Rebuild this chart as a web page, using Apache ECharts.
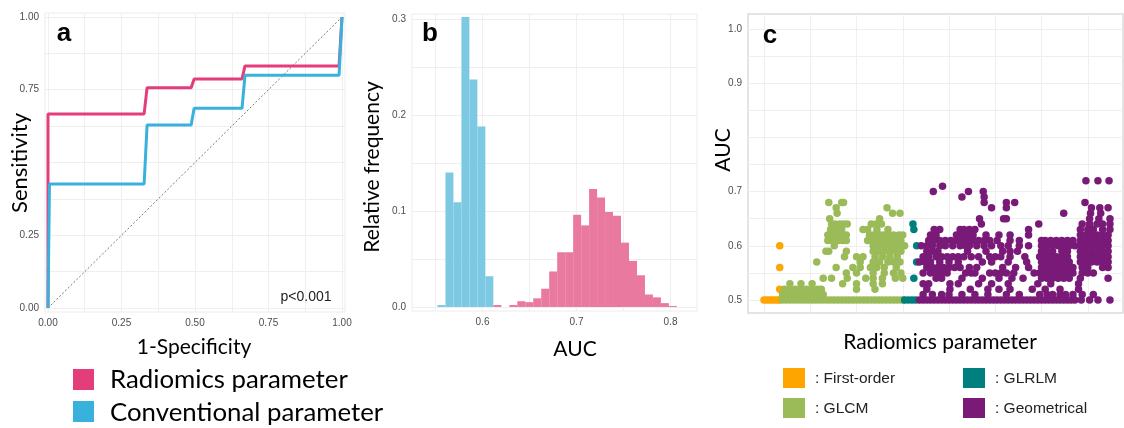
<!DOCTYPE html>
<html>
<head>
<meta charset="utf-8" />
<script type="text/javascript" src="https://cdn.jsdelivr.net/npm/echarts@6/dist/echarts.min.js"></script>
<title></title>
<style>
  body { margin: 0; background: #fff; }
  #main { width: 1124px; height: 428px; }
</style>
</head>
<body>
<div id="main"></div>
<script type="text/javascript">
// panel a: ROC curves, [1-specificity, sensitivity]
var radiomicsRoc = [[0, 0], [0, 0.667], [0.327, 0.667], [0.337, 0.757], [0.487, 0.757], [0.497, 0.787],
  [0.66, 0.787], [0.67, 0.832], [0.99, 0.832], [1, 1]];
var conventionalRoc = [[0, 0], [0.005, 0.426], [0.327, 0.426], [0.337, 0.629], [0.487, 0.629], [0.497, 0.686],
  [0.66, 0.686], [0.67, 0.80], [0.99, 0.80], [1, 1]];
var chanceLine = [[0, 0], [1, 1]];

// panel b: histogram of AUC (relative frequency per bin)
var binStart = 0.5521;
var binWidth = 0.00849;
var conventionalFreq = [0.002, 0.140, 0.109, 0.302, 0.237, 0.188, 0.032];
var radiomicsFreq = [0, 0, 0, 0, 0, 0, 0, 0.002, 0,
  0.002, 0.006, 0.005, 0.009, 0.019, 0.037, 0.057, 0.057, 0.096, 0.085, 0.123,
  0.114, 0.099, 0.095, 0.067, 0.048, 0.033, 0.013, 0.010, 0.004, 0.001];

// panel c: AUC per radiomics parameter, rows of [auc, [parameter index, ...]]
var firstOrderRows = [
  [0.5, [0, 3, 6, 9, 12, 15, 17]],
  [0.52, [17]], [0.56, [17]], [0.6, [17]]
];
var glcmRows = [
  [0.5, [20, 24, 28, 32, 36, 40, 44, 48, 52, 56, 60, 64, 68, 72, 76, 80, 84, 88, 92, 96, 100, 104, 108, 112, 116, 120, 124, 128, 132, 136, 140, 144, 148, 151]],
  [0.51, [20, 25, 30, 35, 40, 45, 50, 55, 60, 64]],
  [0.52, [22, 28, 34, 40, 46, 52, 58, 62, 100, 120]],
  [0.53, [28, 40, 52, 85, 100, 118, 128]],
  [0.54, [64, 73, 90, 110, 118, 128, 142, 150]],
  [0.55, [89, 100, 118, 130, 140, 148]],
  [0.56, [78, 96, 104, 115, 122, 130, 143]],
  [0.57, [57, 104, 118, 125, 134, 140, 147]],
  [0.58, [87, 100, 107, 120, 128, 136, 144]],
  [0.59, [67, 70, 89, 118, 124, 130, 136, 142, 148]],
  [0.6, [76, 118, 124, 130, 136, 142, 148, 152]],
  [0.61, [69, 73, 77, 81, 85, 89, 112, 116, 120, 124, 128, 132, 136, 140, 144, 148]],
  [0.62, [69, 73, 77, 81, 85, 89, 114, 118, 122, 126, 130, 134, 140, 146, 150]],
  [0.63, [72, 78, 84, 107, 112, 122, 134]],
  [0.64, [73, 77, 82, 86, 90, 116, 121, 127]],
  [0.65, [71, 125]],
  [0.66, [79, 139, 147]],
  [0.67, [78, 133]],
  [0.68, [70, 84, 86]]
];
var glrlmRows = [
  [0.5, [152, 156, 160, 164]],
  [0.54, [162]], [0.57, [165]], [0.6, [165]], [0.63, [162]], [0.64, [161]]
];
var geometricalRows = [
  [0.5, [168, 172, 176, 180, 184, 188, 192, 196, 200, 204, 208, 212, 216, 220, 224, 228, 232, 236, 240, 244,
    248, 252, 256, 260, 264, 268, 272, 276, 280, 284, 288, 292, 296, 300, 304, 308, 312, 316, 320, 324,
    328, 332, 336, 343, 352, 361, 374]],
  [0.51, [172, 182, 192, 200, 214, 228, 242, 262, 276, 298, 306, 312, 320, 326, 334, 344, 356]],
  [0.52, [176, 201, 223, 242, 254, 266, 290, 304, 320, 340]],
  [0.53, [172, 178, 201, 210, 232, 246, 264, 296, 310, 340]],
  [0.54, [186, 192, 214, 236, 254, 268, 280, 300, 306, 312, 318, 324, 330, 342, 372]],
  [0.55, [172, 180, 186, 192, 198, 218, 224, 228, 244, 250, 256, 262, 270, 292, 298, 304, 310, 316, 322, 328, 334, 344, 350, 356]],
  [0.56, [176, 182, 188, 194, 200, 206, 212, 222, 230, 258, 272, 286, 300, 304, 310, 316, 322, 328, 334, 344, 350, 366, 372]],
  [0.57, [168, 174, 180, 190, 200, 210, 236, 246, 264, 284, 300, 306, 312, 318, 324, 330, 342, 348, 354, 360, 366, 372]],
  [0.58, [172, 178, 186, 192, 198, 204, 210, 216, 224, 232, 244, 250, 256, 266, 282, 298, 304, 310, 316, 322, 328, 342, 348, 354, 360, 366, 372]],
  [0.59, [176, 182, 188, 220, 240, 258, 266, 274, 300, 306, 312, 322, 328, 342, 348, 354, 360, 366, 372]],
  [0.6, [170, 176, 182, 190, 196, 204, 212, 218, 222, 230, 238, 246, 256, 264, 276, 286, 300, 306, 312, 318, 324, 330, 336, 342, 348, 354, 360, 366, 372]],
  [0.61, [178, 184, 190, 196, 202, 208, 214, 220, 226, 232, 238, 244, 252, 266, 276, 300, 304, 310, 316, 322, 328, 334, 342, 348, 354, 360, 366, 372]],
  [0.62, [180, 186, 208, 214, 220, 226, 240, 254, 266, 286, 342, 348, 354, 360, 366, 372]],
  [0.63, [184, 190, 212, 216, 222, 228, 286, 342, 350, 356, 366, 374]],
  [0.64, [235, 297, 344, 352, 360, 366, 374]],
  [0.65, [233, 259, 262, 352, 362, 374]],
  [0.66, [324, 353, 364]],
  [0.67, [246, 262, 354, 363, 372]],
  [0.68, [238, 262, 271, 347]],
  [0.69, [214, 238]],
  [0.7, [183, 221, 237]],
  [0.71, [193]],
  [0.72, [348, 361, 373]]
];

var pink = '#e43d7b', blue = '#38b2dc';
var histPink = '#e9799f', histBlue = '#7dc9e3';
var orange = '#ffa500', green = '#9bbb59', teal = '#007f7f', purple = '#7a1a78';
var tickFont = 'Liberation Sans';
var titleFont = 'Lato';

function rowsToPoints(rows) {
  var pts = [];
  rows.forEach(function (r) {
    r[1].forEach(function (x) { pts.push([x, r[0]]); });
  });
  return pts;
}
function binsToData(freq) {
  var out = [];
  for (var i = 0; i < freq.length; i++) {
    if (freq[i] > 0) out.push([binStart + i * binWidth, binStart + (i + 1) * binWidth, freq[i]]);
  }
  return out;
}
function histItem(params, api) {
  var p0 = api.coord([api.value(0), api.value(2)]);
  var p1 = api.coord([api.value(1), 0]);
  return {
    type: 'rect',
    shape: { x: p0[0], y: p0[1], width: p1[0] - p0[0], height: p1[1] - p0[1] },
    style: { fill: api.visual('color') }
  };
}
function axis(gridIndex, min, max, lines, labels, digits) {
  return {
    type: 'value', gridIndex: gridIndex, min: min, max: max,
    axisLine: { show: false },
    axisTick: { show: false, customValues: lines },
    splitLine: { show: true, lineStyle: { color: '#efefef', width: 1 } },
    axisLabel: {
      show: labels.length > 0, customValues: labels, margin: 6,
      color: '#4d4d4d', fontSize: 10, fontFamily: tickFont,
      formatter: function (v) { return v.toFixed(digits); }
    }
  };
}
function text(x, y, str, size, opts) {
  opts = opts || {};
  return {
    type: 'text', x: x, y: y, rotation: opts.rot || 0, z: 100,
    style: {
      text: str, fill: opts.fill || '#000',
      font: (opts.bold ? 'bold ' : '') + size + 'px "' + (opts.family || titleFont) + '"',
      align: opts.align || 'center', verticalAlign: 'middle'
    }
  };
}
function box(x, y, w, h, color) {
  return { type: 'rect', shape: { x: x, y: y, width: w, height: h }, style: { fill: color }, z: 100 };
}

var myChart = echarts.init(document.getElementById('main'), null, { renderer: 'canvas' });
var option = {
  animation: false,
  backgroundColor: '#fff',
  grid: [
    { left: 45, top: 13, width: 300, height: 299, show: true, borderColor: '#ececec', borderWidth: 1 },
    { left: 412, top: 14, width: 285, height: 297, show: true, borderColor: '#ececec', borderWidth: 1 },
    { left: 748, top: 14, width: 375, height: 299, show: true, borderColor: '#dcdcdc', borderWidth: 1.5 }
  ],
  xAxis: [
    axis(0, -0.0102, 1.0102, [0, 0.125, 0.25, 0.375, 0.5, 0.625, 0.75, 0.875, 1], [0, 0.25, 0.5, 0.75, 1], 2),
    axis(1, 0.525, 0.8282, [0.55, 0.6, 0.65, 0.7, 0.75, 0.8], [0.6, 0.7, 0.8], 1),
    axis(2, -17.3, 388.1, [0, 50, 100, 150, 200, 250, 300, 350], [], 1)
  ],
  yAxis: [
    axis(0, -0.0137, 1.0137, [0, 0.125, 0.25, 0.375, 0.5, 0.625, 0.75, 0.875, 1], [0, 0.25, 0.75, 1], 2),
    axis(1, -0.0042, 0.3052, [0, 0.05, 0.1, 0.15, 0.2, 0.25, 0.3], [0, 0.1, 0.2, 0.3], 1),
    axis(2, 0.476, 1.0277, [0.5, 0.55, 0.6, 0.65, 0.7, 0.75, 0.8, 0.85, 0.9, 0.95, 1], [0.5, 0.6, 0.7, 0.9, 1], 1)
  ],
  series: [
    { type: 'line', xAxisIndex: 0, yAxisIndex: 0, data: chanceLine, symbol: 'none', clip: false,
      lineStyle: { color: '#777', width: 1, type: [2, 2] } },
    { type: 'line', xAxisIndex: 0, yAxisIndex: 0, data: radiomicsRoc, symbol: 'none', clip: false,
      lineStyle: { color: pink, width: 3 } },
    { type: 'line', xAxisIndex: 0, yAxisIndex: 0, data: conventionalRoc, symbol: 'none', clip: false,
      lineStyle: { color: blue, width: 3 } },
    { type: 'custom', xAxisIndex: 1, yAxisIndex: 1, renderItem: histItem, data: binsToData(radiomicsFreq),
      itemStyle: { color: histPink }, encode: { x: [0, 1], y: 2 } },
    { type: 'custom', xAxisIndex: 1, yAxisIndex: 1, renderItem: histItem, data: binsToData(conventionalFreq),
      itemStyle: { color: histBlue }, encode: { x: [0, 1], y: 2 } },
    { type: 'scatter', xAxisIndex: 2, yAxisIndex: 2, data: rowsToPoints(firstOrderRows), symbolSize: 7.5,
      clip: false, itemStyle: { color: orange, opacity: 1 } },
    { type: 'scatter', xAxisIndex: 2, yAxisIndex: 2, data: rowsToPoints(glcmRows), symbolSize: 7.5,
      clip: false, itemStyle: { color: green, opacity: 1 } },
    { type: 'scatter', xAxisIndex: 2, yAxisIndex: 2, data: rowsToPoints(glrlmRows), symbolSize: 7.5,
      clip: false, itemStyle: { color: teal, opacity: 1 } },
    { type: 'scatter', xAxisIndex: 2, yAxisIndex: 2, data: rowsToPoints(geometricalRows), symbolSize: 7.5,
      clip: false, itemStyle: { color: purple, opacity: 1 } }
  ],
  graphic: [
    text(64, 34, 'a', 26, { bold: true, family: 'Liberation Sans' }),
    text(430, 34, 'b', 26, { bold: true, family: 'Liberation Sans' }),
    text(770, 36, 'c', 26, { bold: true, family: 'Liberation Sans' }),
    text(306, 297, 'p<0.001', 14, { family: 'Liberation Sans', fill: '#222' }),
    text(20, 163, 'Sensitivity', 22, { rot: Math.PI / 2 }),
    text(194, 347, '1-Specificity', 21),
    text(372, 167, 'Relative frequency', 21, { rot: Math.PI / 2 }),
    text(575, 349, 'AUC', 21),
    text(723, 150, 'AUC', 21, { rot: Math.PI / 2 }),
    text(940, 342, 'Radiomics parameter', 21),
    box(73, 369, 21, 21, pink),
    box(73, 401, 21, 21, blue),
    text(110, 380, 'Radiomics parameter', 25.8, { align: 'left' }),
    text(110, 413, 'Conventional parameter', 25.8, { align: 'left' }),
    box(783, 368, 22, 20, orange),
    box(783, 398, 22, 20, green),
    box(963, 368, 22, 20, teal),
    box(963, 398, 22, 20, purple),
    text(815, 379, ': First-order', 15.5, { align: 'left', family: 'Liberation Sans', fill: '#222' }),
    text(815, 409, ': GLCM', 15.5, { align: 'left', family: 'Liberation Sans', fill: '#222' }),
    text(995, 379, ': GLRLM', 15.5, { align: 'left', family: 'Liberation Sans', fill: '#222' }),
    text(995, 409, ': Geometrical', 15.5, { align: 'left', family: 'Liberation Sans', fill: '#222' })
  ]
};
myChart.setOption(option);
</script>
</body>
</html>
